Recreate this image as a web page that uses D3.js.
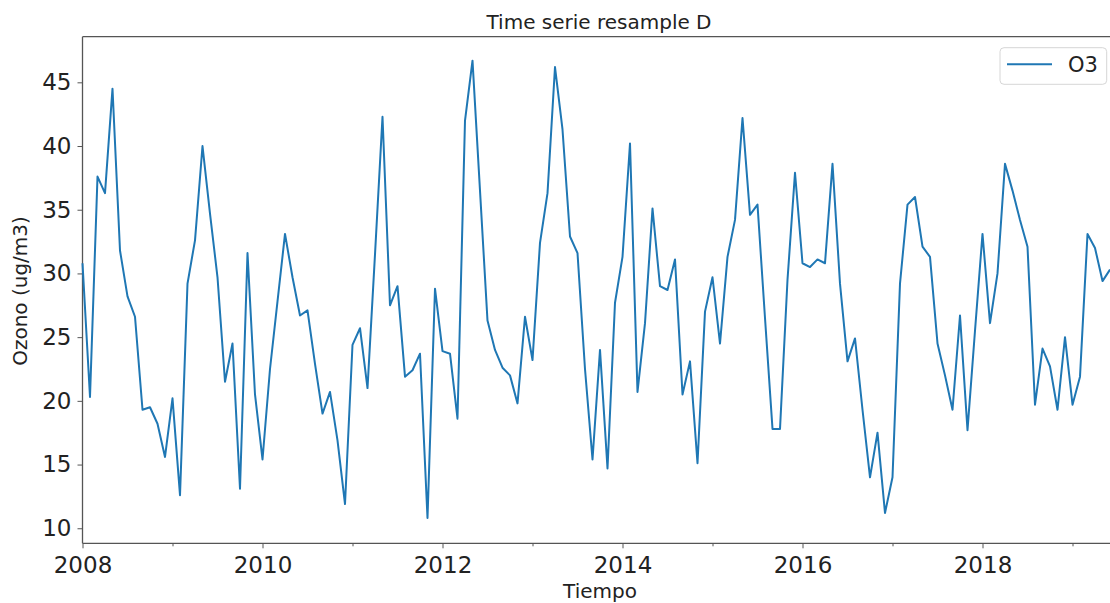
<!DOCTYPE html>
<html>
<head>
<meta charset="utf-8">
<script src="https://cdn.jsdelivr.net/npm/d3@7"></script>
<style>
  body { margin: 0; background: #fff; }
  svg text { font-family: "DejaVu Sans", sans-serif; fill: #222; }
  .axis path, .axis line { stroke: #555; }
</style>
</head>
<body>
<div id="chart"></div>
<script>
// monthly O3 means, Jan 2008 .. Jun 2019
const startYear = 2008;
const o3 = [
  30.8, 20.3, 37.6, 36.3, 44.5, 31.8, 28.2, 26.6, 19.3, 19.5, 18.2, 15.6,
  20.2, 12.6, 29.2, 32.6, 40.0, 34.7, 29.7, 21.5, 24.5, 13.1, 31.6, 20.5,
  15.4, 22.5, 27.8, 33.1, 29.7, 26.7, 27.1, 22.9, 19.0, 20.7, 16.9, 11.9,
  24.4, 25.7, 21.0, 31.5, 42.3, 27.5, 29.0, 21.9, 22.4, 23.7, 10.8, 28.8,
  23.9, 23.7, 18.6, 42.0, 46.7, 36.5, 26.3, 24.0, 22.6, 22.0, 19.8, 26.6,
  23.2, 32.4, 36.3, 46.2, 41.3, 32.9, 31.6, 22.5, 15.4, 24.0, 14.7, 27.7,
  31.3, 40.2, 20.7, 26.1, 35.1, 29.0, 28.7, 31.1, 20.5, 23.1, 15.1, 27.0,
  29.7, 24.5, 31.3, 34.2, 42.2, 34.6, 35.4, 26.5, 17.8, 17.8, 29.5, 37.9,
  30.8, 30.5, 31.1, 30.8, 38.6, 29.2, 23.1, 24.9, 19.3, 14.0, 17.5, 11.2,
  14.0, 29.2, 35.4, 36.0, 32.1, 31.3, 24.5, 22.0, 19.3, 26.7, 17.7, 25.5,
  33.1, 26.1, 30.0, 38.6, 36.5, 34.2, 32.1, 19.7, 24.1, 22.7, 19.3, 25.0,
  19.7, 21.9, 33.1, 32.0, 29.4, 30.3
];
const majorYears = [2008, 2010, 2012, 2014, 2016, 2018];
const minorYears = [2009, 2011, 2013, 2015, 2017, 2019];
const yTicks = [10, 15, 20, 25, 30, 35, 40, 45];
const yLimits = [8.82, 48.58];

const width = 1110, height = 603;
const plotL = 82.5, plotR = 1110, plotT = 36.7, plotB = 543.3;

const data = o3.map((v, i) => ({ t: startYear + i / 12, v: v }));

const x = d3.scaleLinear()
  .domain([startYear, startYear + (o3.length - 1) / 12])
  .range([plotL, plotR]);
const y = d3.scaleLinear().domain(yLimits).range([plotB, plotT]);

const svg = d3.select("#chart").append("svg")
  .attr("width", width)
  .attr("height", height);

// frame: top and left/bottom spines (right one is outside the crop)
svg.append("line")
  .attr("x1", plotL).attr("x2", plotR)
  .attr("y1", plotT).attr("y2", plotT)
  .attr("stroke", "#555").attr("stroke-width", 1.3);

svg.append("g")
  .attr("class", "axis")
  .attr("transform", "translate(0," + plotB + ")")
  .call(d3.axisBottom(x).tickValues(minorYears).tickSize(3).tickFormat(""))
  .call(g => g.select(".domain").remove());

svg.append("g")
  .attr("class", "axis")
  .attr("transform", "translate(0," + plotB + ")")
  .call(d3.axisBottom(x).tickValues(majorYears).tickSize(5).tickPadding(8).tickFormat(d3.format("d")))
  .call(g => g.select(".domain").attr("stroke-width", 1.3).attr("d", "M" + plotL + ",0H" + plotR))
  .call(g => g.selectAll("text").style("font-size", "23px"));

svg.append("g")
  .attr("class", "axis")
  .attr("transform", "translate(" + plotL + ",0)")
  .call(d3.axisLeft(y).tickValues(yTicks).tickSize(5).tickPadding(6))
  .call(g => g.select(".domain").attr("stroke-width", 1.3).attr("d", "M0," + plotT + "V" + plotB))
  .call(g => g.selectAll("text").style("font-size", "23px"));

const line = d3.line()
  .x(d => x(d.t))
  .y(d => y(d.v));

svg.append("path")
  .datum(data)
  .attr("fill", "none")
  .attr("stroke", "#1f77b4")
  .attr("stroke-width", 2)
  .attr("stroke-linejoin", "round")
  .attr("d", line);

// title and labels
svg.append("text")
  .attr("x", 599).attr("y", 29)
  .attr("text-anchor", "middle")
  .style("font-size", "20px")
  .text("Time serie resample D");

svg.append("text")
  .attr("x", 600).attr("y", 598)
  .attr("text-anchor", "middle")
  .style("font-size", "20px")
  .text("Tiempo");

svg.append("text")
  .attr("transform", "translate(27,291) rotate(-90)")
  .attr("text-anchor", "middle")
  .style("font-size", "20px")
  .text("Ozono (ug/m3)");

// legend
const legend = svg.append("g");
legend.append("rect")
  .attr("x", 1000).attr("y", 47.7)
  .attr("width", 106.7).attr("height", 36.6)
  .attr("rx", 4)
  .attr("fill", "#fff").attr("fill-opacity", 0.8)
  .attr("stroke", "#d6d6d6");
legend.append("line")
  .attr("x1", 1007).attr("x2", 1052)
  .attr("y1", 64.3).attr("y2", 64.3)
  .attr("stroke", "#1f77b4").attr("stroke-width", 2);
legend.append("text")
  .attr("x", 1068).attr("y", 72)
  .style("font-size", "21px")
  .text("O3");
</script>
</body>
</html>
